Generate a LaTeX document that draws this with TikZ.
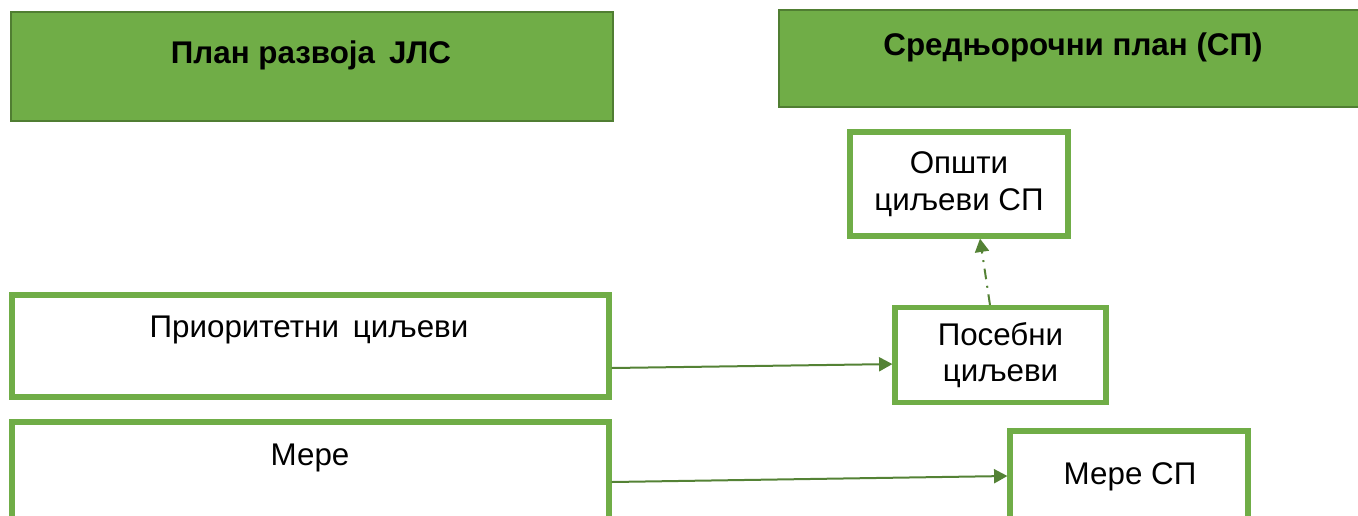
\documentclass[tikz,border=0pt]{standalone}
\usepackage{fontspec}
\setmainfont{Liberation Sans}
\usetikzlibrary{arrows.meta}
\definecolor{gfill}{HTML}{70AD47}
\definecolor{gline}{HTML}{507E32}
\definecolor{garrow}{HTML}{548235}
\begin{document}
\begin{tikzpicture}[x=0.75pt,y=-0.75pt,
  header/.style={draw=gline, line width=0.8pt, fill=gfill, inner sep=0pt},
  box/.style={draw=gfill, line width=3.9pt, fill=white, inner sep=0pt, align=center,
    font=\fontsize{23.5}{27.5}\selectfont},
  lbl/.style={font=\fontsize{23.5}{27.5}\selectfont, inner sep=0pt},
  hlbl/.style={font=\bfseries\fontsize{23.5}{27}\selectfont, inner sep=0pt},
  conn/.style={draw=garrow, line width=1.5pt, -{Triangle[length=10pt,width=10.5pt]}},
  dconn/.style={conn, dash pattern=on 8pt off 5pt on 1.5pt off 5pt}]
\clip (0,0) rectangle (1358,515);
\path[use as bounding box] (0,0) rectangle (1358,515);
% headers
\node[header, minimum width=602*0.75pt, minimum height=109*0.75pt] (h1) at (312,66.5) {};
\node[hlbl] (h1t) at (311,55) {План развоја \,ЈЛС};
\node[header, minimum width=600*0.75pt, minimum height=97*0.75pt] (h2) at (1079,58.5) {};
\node[hlbl] (h2t) at (1073,47) {Средњорочни план (СП)};
% left boxes
\node[box, minimum width=597*0.75pt, minimum height=102*0.75pt] (prio) at (310.5,346) {};
\node[lbl] (priot) at (309,330) {Приоритетни \,циљеви};
\node[box, minimum width=597*0.75pt, minimum height=140*0.75pt] (mere) at (310.5,492) {};
\node[lbl] (meret) at (310,458) {Мере};
% right boxes
\node[box, minimum width=218*0.75pt, minimum height=104*0.75pt] (opsti) at (959,184) {Општи\\циљеви СП};
\node[box, minimum width=211*0.75pt, minimum height=95*0.75pt] (pos) at (1000.5,355) {Посебни\\циљеви};
\node[box, minimum width=238*0.75pt, minimum height=140*0.75pt] (meresp) at (1129,501) {};
\node[lbl] (meresptt) at (1130,477) {Мере СП};
% connectors
\draw[conn] ([yshift=-16.5pt]prio.east) -- ([yshift=-6.8pt]pos.west);
\draw[conn] ([yshift=7.5pt]mere.east) -- ([yshift=18.75pt]meresp.west);
\draw[dconn] ([xshift=-7.9pt]pos.north) -- ([xshift=15.75pt]opsti.south);
\end{tikzpicture}
\end{document}
